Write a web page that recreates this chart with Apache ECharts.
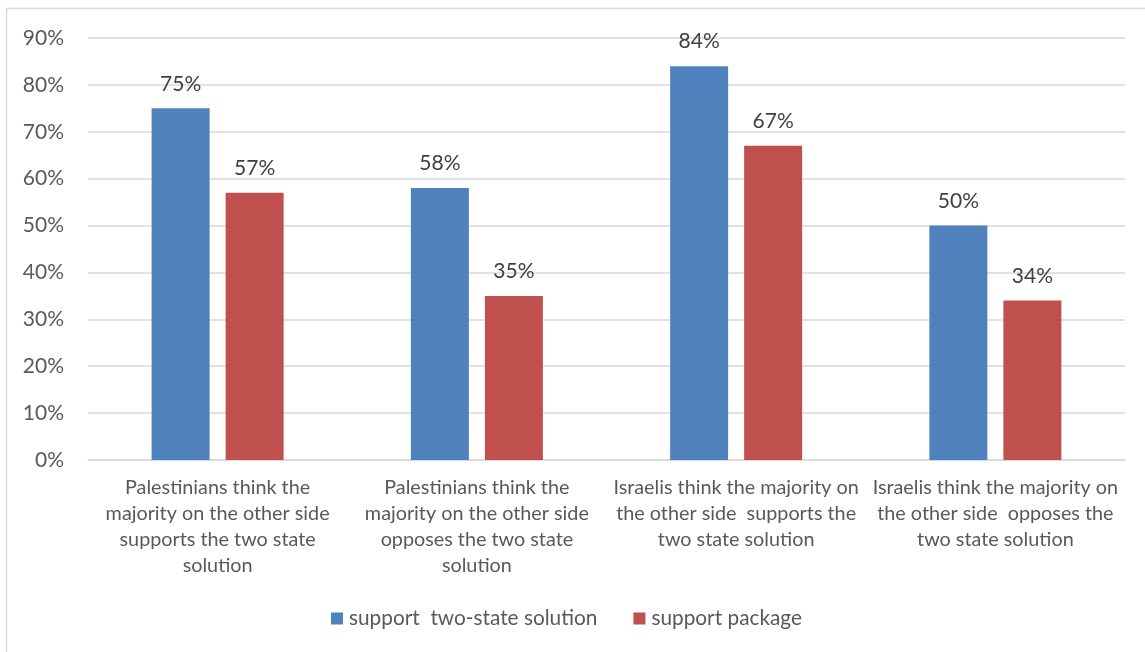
<!DOCTYPE html>
<html>
<head>
<meta charset="utf-8">
<script src="https://cdn.jsdelivr.net/npm/echarts@6/dist/echarts.min.js"></script>
<style>
  html, body { margin: 0; padding: 0; background: #fff; }
  #chart { width: 1145px; height: 652px; }
</style>
</head>
<body>
<div id="chart"></div>
<script>
// Survey categories (line breaks follow the wrapped axis labels)
const categories = [
  'Palestinians think the\nmajority on the other side\nsupports the two state\nsolution',
  'Palestinians think the\nmajority on the other side\nopposes the two state\nsolution',
  'Israelis think the majority on\nthe other side  supports the\ntwo state solution',
  'Israelis think the majority on\nthe other side  opposes the\ntwo state solution'
];
const seriesNames = ['support  two-state solution', 'support package'];
const supportTwoState = [75, 58, 84, 50];
const supportPackage = [57, 35, 67, 34];
const yTicks = { min: 0, max: 90, interval: 10 };

const FONT = 'Lato, "Liberation Sans", sans-serif';
const TEXT = '#595959';

const chart = echarts.init(document.getElementById('chart'), null, { renderer: 'canvas' });

const labelStyle = {
  show: true,
  position: 'top',
  distance: 14,
  formatter: p => p.value + '%',
  fontFamily: FONT,
  fontSize: 21,
  color: '#404040'
};

chart.setOption({
  animation: false,
  backgroundColor: '#ffffff',
  textStyle: { fontFamily: FONT },
  graphic: [{
    type: 'rect',
    shape: { x: 6.5, y: 8.5, width: 1200, height: 700 },
    style: { fill: 'none', stroke: '#d9d9d9', lineWidth: 1.5 },
    silent: true,
    z: -1
  }],
  grid: { left: 88, right: 20, top: 38, bottom: 192 },
  legend: {
    bottom: 18,
    left: 326,
    itemWidth: 12,
    itemHeight: 12,
    itemGap: 36,
    icon: 'rect',
    textStyle: { fontFamily: FONT, fontSize: 20.8, color: TEXT, padding: [0, 0, 0, 1] },
    data: seriesNames
  },
  xAxis: {
    type: 'category',
    data: categories,
    axisLine: { show: true, lineStyle: { color: '#d9d9d9', width: 1.5 } },
    axisTick: { show: false },
    axisLabel: {
      interval: 0,
      margin: 15,
      fontFamily: FONT,
      fontSize: 19.8,
      lineHeight: 26,
      color: TEXT,
      align: 'center',
      verticalAlign: 'top'
    }
  },
  yAxis: {
    type: 'value',
    min: yTicks.min,
    max: yTicks.max,
    interval: yTicks.interval,
    axisLine: { show: false },
    axisTick: { show: false },
    splitLine: { lineStyle: { color: '#d9d9d9', width: 1.5 } },
    axisLabel: {
      margin: 24,
      fontFamily: FONT,
      fontSize: 21,
      color: TEXT,
      formatter: v => v + '%'
    }
  },
  series: [
    {
      name: seriesNames[0],
      type: 'bar',
      data: supportTwoState,
      barWidth: 58,
      barGap: '27.6%',
      itemStyle: { color: '#4f81bd' },
      label: labelStyle
    },
    {
      name: seriesNames[1],
      type: 'bar',
      data: supportPackage,
      barWidth: 58,
      barGap: '27.6%',
      itemStyle: { color: '#c0504d' },
      label: labelStyle
    }
  ]
});
</script>
</body>
</html>
